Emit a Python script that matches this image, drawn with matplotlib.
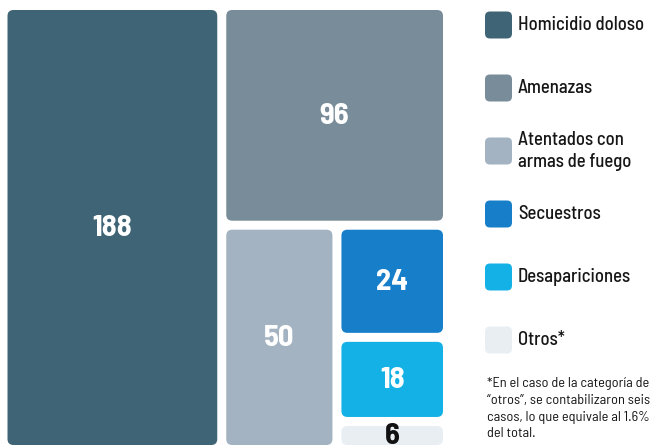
import matplotlib.pyplot as plt
from matplotlib.patches import FancyBboxPatch
from matplotlib import font_manager

categories = ["Homicidio doloso", "Amenazas", "Atentados con\narmas de fuego",
              "Secuestros", "Desapariciones", "Otros*"]
values = [188, 96, 50, 24, 18, 6]
colors = ["#3f6475", "#798c9a", "#a3b3c1", "#177fc9", "#14b1e6", "#e9eef3"]
label_colors = ["white", "white", "white", "white", "white", "#111111"]
footnote = ("*En el caso de la categoría de\n"
            "“otros”, se contabilizaron seis\n"
            "casos, lo que equivale al 1.6%\n"
            "del total.")


def pick_font(names):
    installed = {f.name for f in font_manager.fontManager.ttflist}
    for n in names:
        if n in installed:
            return n
    return "Roboto"


font = pick_font(["Barlow Semi Condensed", "Barlow Condensed", "Asap Condensed", "Roboto"])
plt.rcParams['font.family'] = [font, 'DejaVu Sans']


def treemap_cells(vals, x0, y0, w, h):
    # same split as the original: big column, top row, left column, then a stack
    total = sum(vals)
    cells = []
    cw = w * vals[0] / total
    cells.append((x0, y0, cw, h))
    x0, w = x0 + cw, w - cw
    rest = sum(vals[1:])
    rh = h * vals[1] / rest
    cells.append((x0, y0, w, rh))
    y0, h = y0 + rh, h - rh
    rest = sum(vals[2:])
    cw = w * vals[2] / rest
    cells.append((x0, y0, cw, h))
    x0, w = x0 + cw, w - cw
    rest = sum(vals[3:])
    for v in vals[3:]:
        hh = h * v / rest
        cells.append((x0, y0, w, hh))
        y0 += hh
    return cells


fig = plt.figure(figsize=(6.5, 4.45), dpi=100)
ax = fig.add_axes([0, 0, 1, 1])
ax.set_xlim(0, 650)
ax.set_ylim(445, 0)
ax.axis('off')

gap = 4.5
for (x, y, w, h), v, c, tc in zip(treemap_cells(values, 3, 5.5, 444.5, 444), values, colors, label_colors):
    ax.add_patch(FancyBboxPatch((x + gap, y + gap), w - 2 * gap, h - 2 * gap,
                                boxstyle="round,pad=0,rounding_size=6",
                                fc=c, ec="none"))
    ax.text(x + w / 2, y + h / 2 + 1, str(v), color=tc, fontsize=22,
            fontweight='bold', ha='center', va='center')

# legend
for i, (lab, c) in enumerate(zip(categories, colors)):
    yc = 25 + i * 63
    ax.add_patch(FancyBboxPatch((485, yc - 13.5), 27, 27,
                                boxstyle="round,pad=0,rounding_size=5",
                                fc=c, ec="none"))
    ax.text(518, yc, lab, fontsize=13.5, fontweight='medium', ha='left', va='center',
            color="#161616", linespacing=1.25)

ax.text(487, 377, footnote, fontsize=10.3, ha='left', va='top',
        color="#161616", linespacing=1.38)

fig.savefig("out.png", dpi=100, facecolor="white")
